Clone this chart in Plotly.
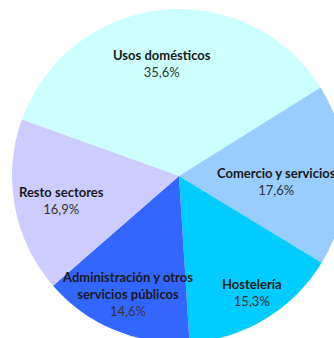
import plotly.graph_objects as go

labels = ["Usos domésticos", "Comercio y servicios", "Hostelería",
          "Administración y otros<br>servicios públicos", "Resto sectores"]
values = [35.6, 17.6, 15.3, 14.6, 16.9]
pct_text = ["35,6%", "17,6%", "15,3%", "14,6%", "16,9%"]
colors = ["#CCFFFF", "#99CCFF", "#00CCFF", "#3366FF", "#CCCCFF"]

W, H = 350, 346
# label anchor positions in pixels (style, not data)
label_px = [(162, 63), (276, 181), (252, 292), (127, 294), (62, 200)]

fig = go.Figure(go.Pie(
    labels=labels, values=values, sort=False, direction="clockwise",
    rotation=-70.2, textinfo="none", hoverinfo="label+percent",
    marker=dict(colors=colors, line=dict(width=0)),
    domain=dict(x=[12 / W, 346 / W], y=[1 - 343 / H, 1 - 9 / H]),
    showlegend=False,
))

for lab, pct, (px, py) in zip(labels, pct_text, label_px):
    fig.add_annotation(
        x=px / W, y=1 - py / H, xref="paper", yref="paper",
        text=f"<b>{lab}</b><br><span style='color:#333333'>{pct}</span>",
        showarrow=False, align="center", xanchor="center", yanchor="middle",
        font=dict(family="Lato, Open Sans, sans-serif", size=13, color="#1a1a1a"),
    )

fig.update_layout(
    width=W, height=H, margin=dict(l=0, r=0, t=0, b=0),
    paper_bgcolor="white", plot_bgcolor="white",
)

fig.write_html("out.html", post_script=(
    "document.body.style.margin='0';document.body.style.overflow='hidden';"
    "document.documentElement.style.overflow='hidden';"))
